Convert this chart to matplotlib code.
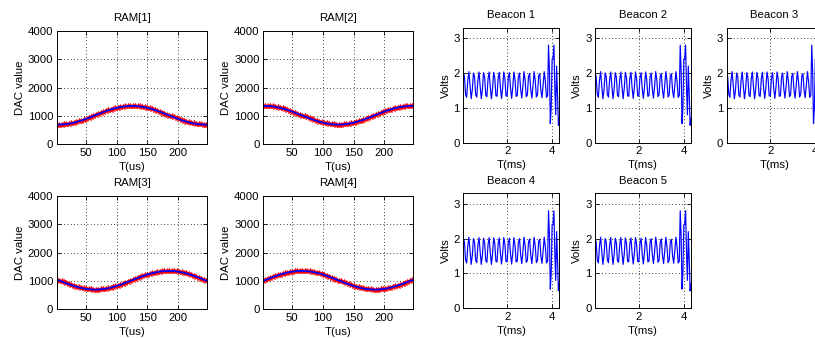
import matplotlib
matplotlib.use("Agg")
import matplotlib.pyplot as plt

plt.rcParams["font.family"] = ["Liberation Sans", "DejaVu Sans"]
plt.rcParams["font.size"] = 8

# --- RAM tables (DAC codes) sampled every 4 us ---
ram_time_us = [2 + 4 * i for i in range(62)]

ram1 = [696, 695, 698, 704, 714, 727, 744, 763, 786, 811, 838, 868, 899, 931, 965, 999,
        1034, 1068, 1102, 1135, 1167, 1197, 1226, 1252, 1276, 1297, 1315, 1330, 1341, 1349,
        1354, 1355, 1352, 1346, 1336, 1323, 1306, 1287, 1264, 1239, 1212, 1182, 1151, 1119,
        1085, 1051, 1016, 982, 948, 915, 883, 853, 824, 798, 774, 753, 735, 720, 709, 701,
        696, 695]

ram2 = [1354, 1355, 1352, 1346, 1336, 1323, 1306, 1287, 1264, 1239, 1212, 1182, 1151, 1119,
        1085, 1051, 1016, 982, 948, 915, 883, 853, 824, 798, 774, 753, 735, 720, 709, 701,
        696, 695, 698, 704, 714, 727, 744, 763, 786, 811, 838, 868, 899, 931, 965, 999,
        1034, 1068, 1102, 1135, 1167, 1197, 1226, 1252, 1276, 1297, 1315, 1330, 1341, 1349,
        1354, 1355]

ram3 = [1051, 1016, 982, 948, 915, 883, 853, 824, 798, 774, 753, 735, 720, 709, 701, 696,
        695, 698, 704, 714, 727, 744, 763, 786, 811, 838, 868, 899, 931, 965, 999, 1034,
        1068, 1102, 1135, 1167, 1197, 1226, 1252, 1276, 1297, 1315, 1330, 1341, 1349, 1354,
        1355, 1352, 1346, 1336, 1323, 1306, 1287, 1264, 1239, 1212, 1182, 1151, 1119, 1085,
        1051, 1016]

ram4 = [999, 1034, 1068, 1102, 1135, 1167, 1197, 1226, 1252, 1276, 1297, 1315, 1330, 1341,
        1349, 1354, 1355, 1352, 1346, 1336, 1323, 1306, 1287, 1264, 1239, 1212, 1182, 1151,
        1119, 1085, 1051, 1016, 982, 948, 915, 883, 853, 824, 798, 774, 753, 735, 720, 709,
        701, 696, 695, 698, 704, 714, 727, 744, 763, 786, 811, 838, 868, 899, 931, 965,
        999, 1034]

ram_titles = ["RAM[1]", "RAM[2]", "RAM[3]", "RAM[4]"]
ram_series = [ram1, ram2, ram3, ram4]
ram_yticks = [0, 1000, 2000, 3000, 4000]
ram_xticks = [50, 100, 150, 200]

# --- Beacon receiver voltage (V) vs time (ms) ---
beacon_ms = [0.05, 0.10, 0.15, 0.20, 0.25, 0.30, 0.35, 0.40, 0.45, 0.50, 0.55, 0.60, 0.65,
             0.70, 0.75, 0.80, 0.85, 0.90, 0.95, 1.00, 1.05, 1.10, 1.15, 1.20, 1.25, 1.30,
             1.35, 1.40, 1.45, 1.50, 1.55, 1.60, 1.65, 1.70, 1.75, 1.80, 1.85, 1.90, 1.95,
             2.00, 2.05, 2.10, 2.15, 2.20, 2.25, 2.30, 2.35, 2.40, 2.45, 2.50, 2.55, 2.60,
             2.65, 2.70, 2.75, 2.80, 2.85, 2.90, 2.95, 3.00, 3.05, 3.10, 3.15, 3.20, 3.25,
             3.30, 3.35, 3.40, 3.45, 3.50, 3.55, 3.60, 3.65, 3.70, 3.75, 3.80, 3.84, 3.88,
             3.92, 3.96, 4.00, 4.04, 4.08, 4.12, 4.16, 4.20, 4.25, 4.28, 4.32]
beacon_v = [1.99, 1.91, 1.39, 1.30, 1.79, 2.04, 1.65, 1.26, 1.51, 2.00, 1.90, 1.38, 1.31,
            1.81, 2.03, 1.62, 1.26, 1.53, 2.01, 1.88, 1.36, 1.32, 1.83, 2.03, 1.60, 1.26,
            1.55, 2.02, 1.86, 1.35, 1.33, 1.85, 2.02, 1.58, 1.27, 1.57, 2.03, 1.84, 1.34,
            1.34, 1.87, 2.01, 1.56, 1.27, 1.59, 2.03, 1.82, 1.33, 1.35, 1.89, 2.00, 1.54,
            1.28, 1.61, 2.04, 1.80, 1.32, 1.37, 1.90, 1.99, 1.52, 1.28, 1.63, 2.04, 1.78,
            1.31, 1.38, 1.92, 1.98, 1.50, 1.29, 1.65, 2.04, 1.76, 1.30, 1.35, 2.80, 2.10,
            0.55, 1.00, 2.40, 2.40, 2.80, 1.60, 0.80, 2.20, 1.20, 0.50, 0.70]

beacon_titles = ["Beacon 1", "Beacon 2", "Beacon 3", "Beacon 4", "Beacon 5"]
beacon_yticks = [0, 1, 2, 3]
beacon_xticks = [2, 4]

W, H = 815, 338
fig = plt.figure(figsize=(W / 100, H / 100), dpi=100)


def px_axes(left, top, right, bottom):
    return fig.add_axes([left / W, 1 - bottom / H, (right - left) / W, (bottom - top) / H])


def style(ax):
    ax.grid(True, color="black", linestyle=(0, (1, 3)), linewidth=0.6)
    ax.tick_params(direction="in", top=True, right=True, length=3, width=0.6,
                   pad=2.5, colors="black", labelsize=8.2)
    for s in ax.spines.values():
        s.set_linewidth(0.7)
        s.set_color("black")


ram_boxes = [(56.7, 31, 206.7, 144.3), (263, 31, 413, 144.3),
             (56.7, 196, 206.7, 309.3), (263, 196, 413, 309.3)]
for box, title, vals in zip(ram_boxes, ram_titles, ram_series):
    ax = px_axes(*box)
    ax.plot(ram_time_us, vals, linestyle="none", marker="*", color="red",
            markersize=3.8, markeredgewidth=0.6)
    ax.plot(ram_time_us, vals, color="blue", linewidth=1.3)
    ax.set_xlim(2, 247)
    ax.set_ylim(0, 4000)
    ax.set_xticks(ram_xticks)
    ax.set_yticks(ram_yticks)
    ax.set_title(title, fontsize=8.2, pad=7)
    ax.set_xlabel("T(us)", fontsize=8.2, labelpad=3)
    ax.set_ylabel("DAC value", fontsize=8.2, labelpad=2)
    style(ax)

beacon_boxes = [(463.3, 27.7, 559.3, 142.7), (595, 27.7, 691, 142.7),
                (726.5, 27.7, 822.5, 142.7), (463.3, 193.3, 559.3, 308.3),
                (595, 193.3, 691, 308.3)]
for box, title in zip(beacon_boxes, beacon_titles):
    ax = px_axes(*box)
    ax.plot(beacon_ms, beacon_v, color="blue", linewidth=0.85)
    ax.set_xlim(0.05, 4.32)
    ax.set_ylim(0, 3.3)
    ax.set_xticks(beacon_xticks)
    ax.set_yticks(beacon_yticks)
    ax.set_title(title, fontsize=8.2, pad=7)
    ax.set_xlabel("T(ms)", fontsize=8.2, labelpad=3)
    ax.set_ylabel("Volts", fontsize=8.2, labelpad=2)
    style(ax)

fig.savefig("out.png", dpi=100)
